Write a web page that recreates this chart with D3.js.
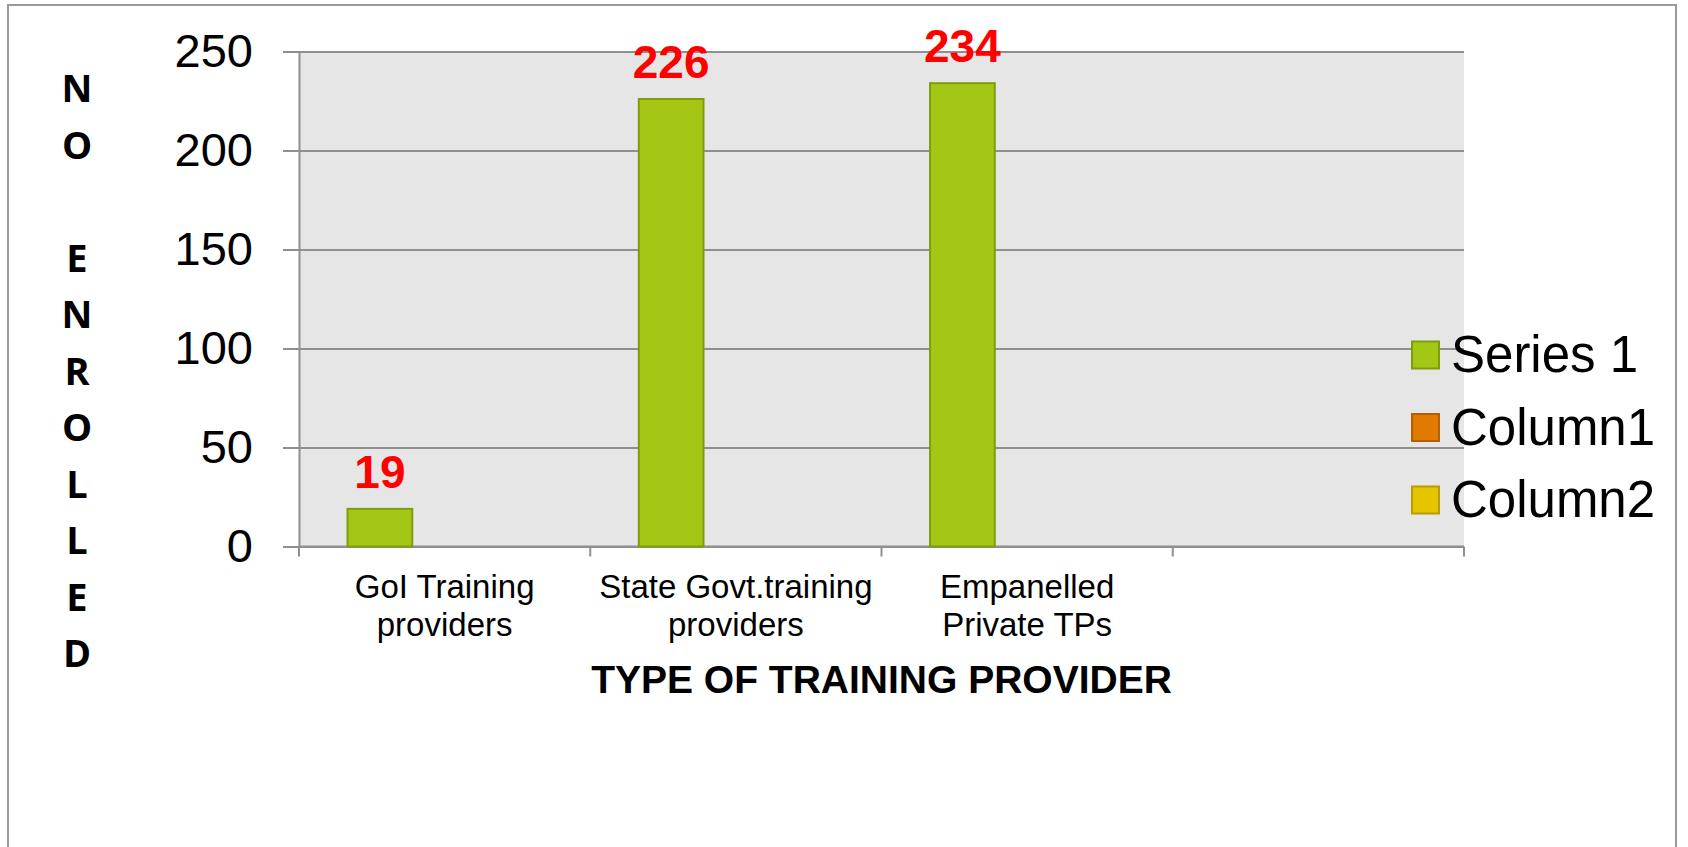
<!DOCTYPE html>
<html>
<head>
<meta charset="utf-8">
<script src="https://d3js.org/d3.v7.min.js"></script>
<style>
  body { margin: 0; background: #fff; }
  svg { display: block; }
</style>
</head>
<body>
<div id="main"></div>
<script>
/* Size */
const width = 1688, height = 847;

/* Data */
const categories = ["GoI Training providers", "State Govt.training providers", "Empanelled Private TPs", ""];
const categoryLines = [["GoI Training", "providers"], ["State Govt.training", "providers"], ["Empanelled", "Private TPs"], []];
const seriesNames = ["Series 1", "Column1", "Column2"];
const series1 = [19, 226, 234, null];
const column1 = [null, null, null, null];
const column2 = [null, null, null, null];
const yTicks = [0, 50, 100, 150, 200, 250];
const yTitle = ["N", "O", "", "E", "N", "R", "O", "L", "L", "E", "D"];
const xTitle = "TYPE OF TRAINING PROVIDER";

const seriesValues = [series1, column1, column2];
const fills = ["#a4c716", "#e07b00", "#e5c400"];
const strokes = ["#7f9c0d", "#b35f00", "#b89c00"];

const plot = { left: 299, top: 51.5, right: 1464, bottom: 546.5 };
const pw = plot.right - plot.left, ph = plot.bottom - plot.top;

const svg = d3.select("#main").append("svg").attr("width", width).attr("height", height);

/* outer frame (bottom edge runs off the picture) */
svg.append("rect")
  .attr("x", 8).attr("y", 5).attr("width", 1668).attr("height", 900)
  .attr("fill", "#fff").attr("stroke", "#9a9a9a").attr("stroke-width", 2);

/* Scales */
const y = d3.scaleLinear().domain([0, 250]).range([ph, 0]);
const x0 = d3.scaleBand().domain(categories.map((d, i) => i)).range([0, pw]).padding(0);
const x1 = d3.scaleBand().domain(seriesNames).range([0, x0.bandwidth()]).paddingInner(0).paddingOuter(0.75);

const g = svg.append("g").attr("transform", `translate(${plot.left},${plot.top})`);

g.append("rect").attr("width", pw).attr("height", ph).attr("fill", "#e6e6e6");

/* y axis + gridlines */
const yAxis = g.append("g")
  .call(d3.axisLeft(y).tickValues(yTicks).tickSize(-pw).tickSizeOuter(0).tickPadding(46));
yAxis.select(".domain").attr("stroke", "#8f8f8f").attr("stroke-width", 2);
yAxis.selectAll(".tick line").attr("x1", -16).attr("x2", pw).attr("stroke", "#8f8f8f").attr("stroke-width", 2);
yAxis.selectAll(".tick text")
  .attr("x", -46)
  .style("font-family", "'Liberation Sans', Arial, sans-serif")
  .style("font-size", "47px")
  .attr("fill", "#000");

/* x axis: boundary ticks */
const bounds = categories.map((d, i) => x0(i)).concat([pw]);
g.selectAll(".xtick").data(bounds).enter().append("line")
  .attr("x1", d => d).attr("x2", d => d)
  .attr("y1", ph).attr("y2", ph + 10)
  .attr("stroke", "#8f8f8f").attr("stroke-width", 2);
g.append("line").attr("x1", 0).attr("x2", pw).attr("y1", ph).attr("y2", ph)
  .attr("stroke", "#8f8f8f").attr("stroke-width", 2);

/* category labels */
const catG = g.selectAll(".cat").data(categoryLines).enter().append("text")
  .attr("text-anchor", "middle")
  .attr("transform", (d, i) => `translate(${x0(i) + x0.bandwidth() / 2},${ph + 51})`)
  .style("font-family", "'Liberation Sans', Arial, sans-serif")
  .style("font-size", "33px");
catG.selectAll("tspan").data(d => d).enter().append("tspan")
  .attr("x", 0).attr("dy", (d, i) => i === 0 ? 0 : 38.5)
  .text(d => d);

/* bars */
seriesValues.forEach((vals, s) => {
  const bars = vals.map((v, i) => ({ v, i })).filter(d => d.v != null);
  g.selectAll(".bar" + s).data(bars).enter().append("rect")
    .attr("x", d => x0(d.i) + x1(seriesNames[s]))
    .attr("y", d => y(d.v))
    .attr("width", x1.bandwidth())
    .attr("height", d => ph - y(d.v))
    .attr("fill", fills[s]).attr("stroke", strokes[s]).attr("stroke-width", 2);
  g.selectAll(".lab" + s).data(bars).enter().append("text")
    .attr("x", d => x0(d.i) + x1(seriesNames[s]) + x1.bandwidth() / 2)
    .attr("y", d => y(d.v) - 21)
    .attr("text-anchor", "middle")
    .text(d => d.v)
    .style("font-family", "'Liberation Sans', Arial, sans-serif")
    .style("font-size", "46px")
    .style("font-weight", "bold")
    .attr("fill", "#ff0000");
});

/* axis titles */
svg.append("text")
  .attr("x", plot.left + pw / 2).attr("y", 693)
  .attr("text-anchor", "middle")
  .text(xTitle)
  .style("font-family", "'Liberation Sans', Arial, sans-serif")
  .style("font-size", "39px").style("font-weight", "bold");

svg.selectAll(".ytitle").data(yTitle).enter().append("text")
  .attr("x", 77).attr("y", (d, i) => 102 + i * 56.5)
  .attr("text-anchor", "middle")
  .text(d => d)
  .style("font-family", "'Open Sans', sans-serif")
  .style("font-size", "38px").style("font-weight", "bold");

/* legend */
const leg = svg.selectAll(".leg").data(seriesNames).enter().append("g")
  .attr("transform", (d, i) => `translate(1412,${355 + i * 72.5})`);
leg.append("rect")
  .attr("x", 0).attr("y", -13.5).attr("width", 27).attr("height", 27)
  .attr("fill", (d, i) => fills[i]).attr("stroke", (d, i) => strokes[i]).attr("stroke-width", 2);
leg.append("text")
  .attr("x", 39).attr("y", 17)
  .text(d => d)
  .style("font-family", "'Liberation Sans', Arial, sans-serif")
  .style("font-size", "51px");
</script>
</body>
</html>
